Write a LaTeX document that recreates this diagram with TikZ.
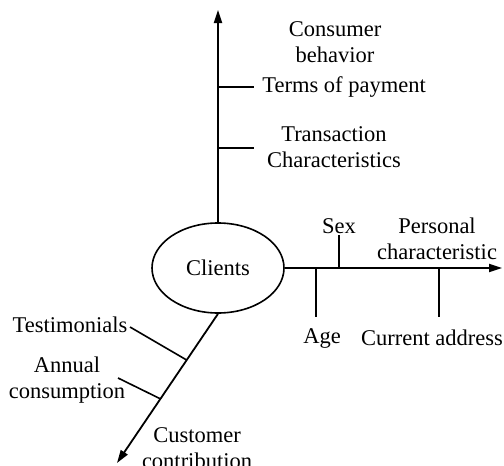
\documentclass[tikz,border=0pt]{standalone}
\usepackage{fontspec}
\setmainfont{Liberation Serif}
\usetikzlibrary{shapes.geometric,arrows.meta,calc}
\begin{document}
\begin{tikzpicture}[x=0.5pt,y=-0.5pt,
  axis/.style={line width=0.9pt,-{Triangle[length=6.5pt,width=4pt]}},
  tick/.style={line width=0.8pt},
  lbl/.style={inner sep=0pt,align=center,font=\fontsize{11.25}{13.2}\selectfont},
  hub/.style={ellipse,draw,line width=0.8pt,minimum width=66pt,minimum height=45pt,inner sep=0pt,
    font=\fontsize{11.25}{13.2}\selectfont}]
\useasboundingbox (0,0) rectangle (504,466);

% central node
\node[hub] (cl) at (218,268) {Clients};

% axis end points
\coordinate (top) at (218,10);
\coordinate (right) at (502,268);
\coordinate (low) at (117,463);

% main axes
\draw[axis] (cl.north) -- (top);
\draw[axis] (cl.east) -- (right);
\draw[axis] (cl.south) -- (low);

% branches on the vertical axis
\coordinate (v1) at (218,87);
\coordinate (v1e) at (254,87);
\coordinate (v2) at (218,148);
\coordinate (v2e) at (254,148);
\draw[tick] (v1) -- (v1e);
\draw[tick] (v2) -- (v2e);
\node[lbl] (cb) at (335,42) {Consumer\\behavior};
\node[lbl,anchor=west] (tp) at (262,87) {Terms of payment};
\node[lbl] (tc) at (334,147) {Transaction\\Characteristics};

% branches on the horizontal axis
\coordinate (h1) at (339,268);
\coordinate (h1e) at (339,235);
\coordinate (h2) at (316,268);
\coordinate (h2e) at (316,317);
\coordinate (h3) at (439,268);
\coordinate (h3e) at (439,317);
\draw[tick] (h1) -- (h1e);
\draw[tick] (h2) -- (h2e);
\draw[tick] (h3) -- (h3e);
\node[lbl] (sx) at (339,226) {Sex};
\node[lbl] (pc) at (437,239) {Personal\\characteristic};
\node[lbl] (ag) at (322,338) {Age};
\node[lbl] (ca) at (432,338) {Current address};

% branches on the diagonal axis
\coordinate (d1) at ($(cl.south)!0.31!(low)$);
\coordinate (d1e) at (130,327);
\coordinate (d2) at ($(cl.south)!0.57!(low)$);
\coordinate (d2e) at (118,378);
\draw[tick] (d1) -- (d1e);
\draw[tick] (d2) -- (d2e);
\node[lbl] (ts) at (70,325) {Testimonials};
\node[lbl] (ac) at (67,380) {Annual\\consumption};
\node[lbl] (cc) at (197,448) {Customer\\contribution};
\end{tikzpicture}
\end{document}
